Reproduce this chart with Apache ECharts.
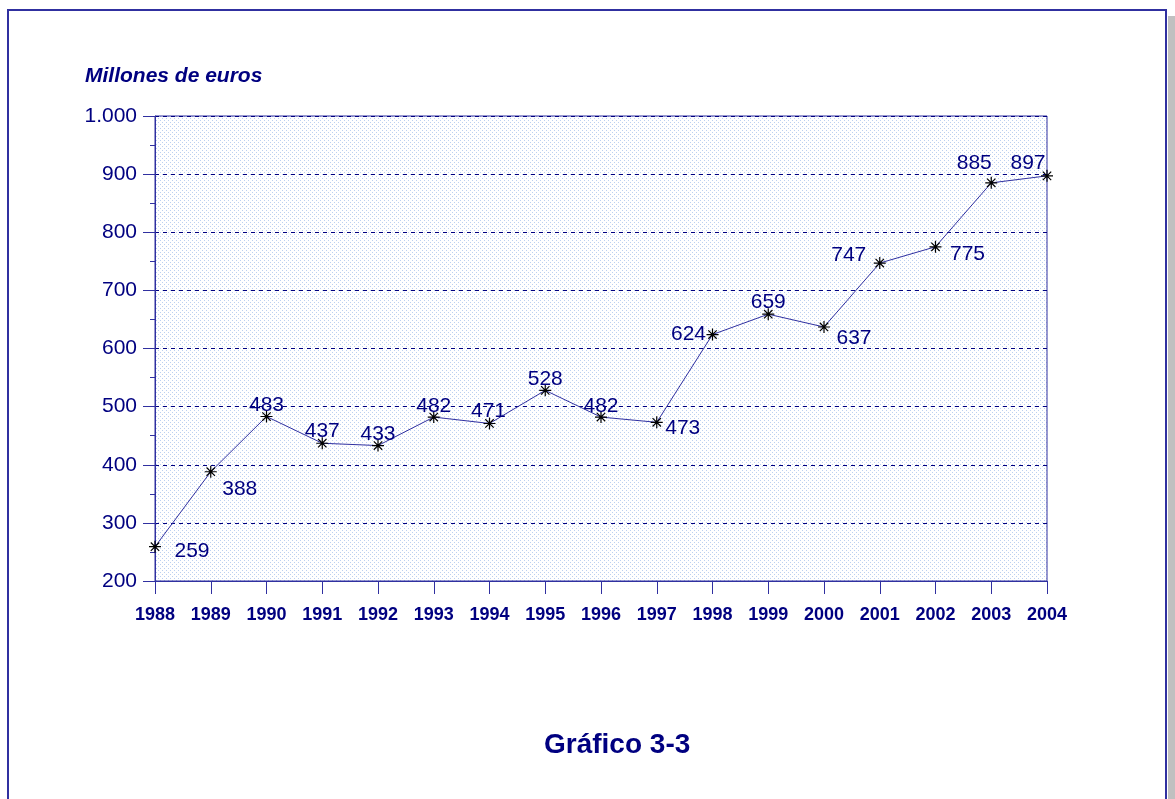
<!DOCTYPE html>
<html>
<head>
<meta charset="utf-8">
<script src="https://cdn.jsdelivr.net/npm/echarts@6/dist/echarts.min.js"></script>
<style>
  html, body { margin: 0; padding: 0; background: #fff; }
  #chart { width: 1175px; height: 799px; }
</style>
</head>
<body>
<div id="chart"></div>
<script>
const years = ['1988','1989','1990','1991','1992','1993','1994','1995','1996',
               '1997','1998','1999','2000','2001','2002','2003','2004'];
const values = [259, 388, 483, 437, 433, 482, 471, 528, 482,
                473, 624, 659, 637, 747, 775, 885, 897];
const yTicks = [200, 300, 400, 500, 600, 700, 800, 900, 1000];

// donde va cada etiqueta respecto al punto (dx, dy)
const labelOffsets = [
  [37, 4], [29, 17], [0, -11], [0, -12], [0, -11], [0, -11], [-1, -12], [0, -11], [0, -11],
  [26, 6], [-24, 0], [0, -12], [30, 11], [-31, -8], [32, 7], [-17, -20], [-19, -13]
];

const navy = '#000080';
const lineNavy = '#3030a0';

// fondo punteado del área de trazado
const pat = document.createElement('canvas');
pat.width = 4; pat.height = 4;
const pc = pat.getContext('2d');
pc.fillStyle = '#ffffff';
pc.fillRect(0, 0, 4, 4);
pc.fillStyle = '#bcd0f0';
pc.fillRect(0, 0, 1, 1);
pc.fillRect(2, 2, 1, 1);

const star = 'path://M0,-6L0,6M-6,0L6,0M-4.2,-4.2L4.2,4.2M-4.2,4.2L4.2,-4.2';

const chart = echarts.init(document.getElementById('chart'));
chart.setOption({
  animation: false,
  backgroundColor: '#fff',
  textStyle: { fontFamily: 'Liberation Sans, Arial, sans-serif' },
  graphic: [
    { type: 'rect', z: -10, shape: { x: 8, y: 10, width: 1158, height: 820 },
      style: { fill: 'none', stroke: lineNavy, lineWidth: 2 } },
    { type: 'rect', z: -10, shape: { x: 1168, y: 16, width: 7, height: 800 },
      style: { fill: '#c0c0c0' } },
    { type: 'text', left: 85, top: 66,
      style: { text: 'Millones de euros', fill: navy, font: 'italic bold 21px Liberation Sans, Arial' } },
    { type: 'text', left: 544, top: 731,
      style: { text: 'Gráfico 3-3', fill: navy, font: 'bold 28px Liberation Sans, Arial' } }
  ],
  grid: {
    left: 155, right: 128, top: 116, bottom: 218,
    show: true,
    backgroundColor: { image: pat, repeat: 'repeat' },
    borderColor: lineNavy, borderWidth: 1
  },
  xAxis: {
    type: 'category',
    data: years,
    boundaryGap: false,
    axisLine: { lineStyle: { color: lineNavy, width: 1 } },
    axisTick: { show: true, length: 13, alignWithLabel: true, lineStyle: { color: lineNavy } },
    axisLabel: { color: navy, fontSize: 18, fontWeight: 'bold', margin: 25, interval: 0 },
    splitLine: { show: false }
  },
  yAxis: {
    type: 'value',
    min: yTicks[0], max: yTicks[yTicks.length - 1], interval: 100,
    axisLine: { show: true, lineStyle: { color: lineNavy, width: 1 } },
    axisTick: { show: true, length: 12, lineStyle: { color: lineNavy } },
    minorTick: { show: true, splitNumber: 2, length: 5, lineStyle: { color: lineNavy } },
    axisLabel: {
      color: navy, fontSize: 21, margin: 18,
      formatter: v => v >= 1000 ? String(v).replace(/(\d)(\d{3})$/, '$1.$2') : String(v)
    },
    splitLine: { show: true, lineStyle: { color: navy, type: [4, 4], width: 1 } }
  },
  series: [{
    type: 'line',
    data: values.map((v, i) => ({
      value: v,
      label: { offset: labelOffsets[i] }
    })),
    symbol: star,
    symbolSize: 12,
    itemStyle: { color: 'rgba(0,0,0,0)', borderColor: '#000', borderWidth: 1.2 },
    lineStyle: { color: lineNavy, width: 1 },
    label: {
      show: true, position: 'inside', color: navy, fontSize: 21
    }
  }]
});
</script>
</body>
</html>
